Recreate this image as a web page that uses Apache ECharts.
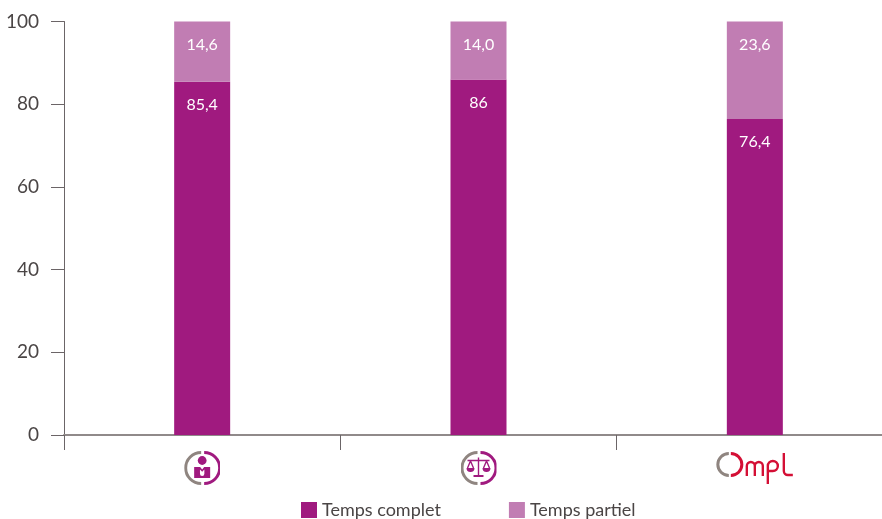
<!DOCTYPE html>
<html><head><meta charset="utf-8">
<style>html,body{margin:0;padding:0;background:#fff}#c{width:882px;height:519px}</style>
<script src="https://cdn.jsdelivr.net/npm/echarts@6/dist/echarts.min.js"></script>
</head><body><div id="c"></div>
<script>
const categories = ['Cadres', 'Justice', 'Ompl'];
const seriesNames = ['Temps complet', 'Temps partiel'];
const tempsComplet = [85.4, 86, 76.4];
const tempsPartiel = [14.6, 14.0, 23.6];
const labelsComplet = ['85,4', '86', '76,4'];
const labelsPartiel = ['14,6', '14,0', '23,6'];
const PURPLE = '#a01a7f', LIGHT = '#c17db3', GREY = '#8f8580', RED = '#d40f35';

const ring = `<path d="M16 2.5A15.5 15.5 0 0 0 16 33.5" fill="none" stroke="${GREY}" stroke-width="3" transform="translate(1 0)"/>
<path d="M20 2.5A15.5 15.5 0 0 1 20 33.5" fill="none" stroke="${PURPLE}" stroke-width="3"/>`;
const svg1 = `<svg xmlns="http://www.w3.org/2000/svg" width="36" height="36" viewBox="0 0 36 36">${ring}
<circle cx="18" cy="10.5" r="4.4" fill="${PURPLE}"/>
<path d="M10 17h6l2 2.5 2-2.5h6v11h-16z" fill="${PURPLE}"/><path d="M15.8 19.5v4.2a2.2 2.2 0 0 0 4.4 0v-4.2l-2.2 2.2z" fill="#fff"/></svg>`;
const svg2 = `<svg xmlns="http://www.w3.org/2000/svg" width="36" height="36" viewBox="0 0 36 36">${ring}
<g stroke="${PURPLE}" fill="none" stroke-width="1.4"><path d="M7 10.5H29M18 7.5V25"/><path d="M10 11L7 18M10 11L13 18M26 11L23 18M26 11L29 18"/></g>
<path d="M6 18h8a4 4 0 0 1-8 0zM22 18h8a4 4 0 0 1-8 0zM13 25h10v2h-10z" fill="${PURPLE}"/></svg>`;
const svg3 = `<svg xmlns="http://www.w3.org/2000/svg" width="80" height="36" viewBox="0 0 80 36">
<path d="M14 3.5A11 11 0 0 0 14 25.5" fill="none" stroke="${GREY}" stroke-width="3"/>
<path d="M16 3.5A11 11 0 0 1 16 25.5" fill="none" stroke="${RED}" stroke-width="3"/>
<g fill="none" stroke="${RED}" stroke-width="2.4"><path d="M32 26V16a4 4 0 0 1 8 0V26M40 16a4 4 0 0 1 8 0V26"/>
<path d="M53 34V16a5 5 0 0 1 10 0a5 5 0 0 1-5 5h-5"/><path d="M69 3V21a4 4 0 0 0 4 4h5"/></g></svg>`;
const icons = [svg1, svg2, svg3];
const uri = s => 'data:image/svg+xml;charset=utf-8,' + encodeURIComponent(s);
const rich = {};
categories.forEach((c, i) => {
  rich['k' + i] = { width: i === 2 ? 80 : 36, height: 36, backgroundColor: { image: uri(icons[i]) } };
});

const FONT = 'Lato';
const chart = echarts.init(document.getElementById('c'), null, { renderer: 'canvas' });
const mk = (name, data, color, labels) => ({
  name, type: 'bar', stack: 'total', data, barWidth: 56,
  itemStyle: { color },
  label: {
    show: true, position: 'insideTop', distance: 15, color: '#fff',
    fontFamily: FONT, fontSize: 16,
    formatter: p => labels[p.dataIndex]
  }
});
chart.setOption({
  animation: false,
  backgroundColor: '#fff',
  grid: { left: 64, top: 21.5, width: 829, height: 413.5, containLabel: false, outerBoundsMode: 'none' },
  legend: {
    left: 301, top: 501, padding: 0, itemWidth: 16, itemHeight: 16, itemGap: 68,
    textStyle: { fontFamily: FONT, fontSize: 18, color: '#4a4545' },
    itemStyle: { borderWidth: 0 }, icon: 'rect',
    data: seriesNames
  },
  xAxis: {
    type: 'category', data: categories,
    axisLine: { lineStyle: { color: '#908a8a', width: 2 } },
    axisTick: { show: true, alignWithLabel: false, length: 15, lineStyle: { color: '#6b6567', width: 1 } },
    axisLabel: {
      margin: 15, interval: 0, hideOverlap: false,
      formatter: v => `{k${categories.indexOf(v)}|}`,
      rich
    }
  },
  yAxis: {
    type: 'value', min: 0, max: 100, interval: 20,
    axisLine: { show: true, lineStyle: { color: '#6b6567', width: 1 } },
    axisTick: { show: true, length: 13, lineStyle: { color: '#6b6567', width: 1 } },
    splitLine: { show: false },
    axisLabel: { margin: 25, fontFamily: FONT, fontSize: 19, color: '#4a4545' }
  },
  series: [
    mk(seriesNames[0], tempsComplet, PURPLE, labelsComplet),
    mk(seriesNames[1], tempsPartiel, LIGHT, labelsPartiel)
  ]
});
</script></body></html>
